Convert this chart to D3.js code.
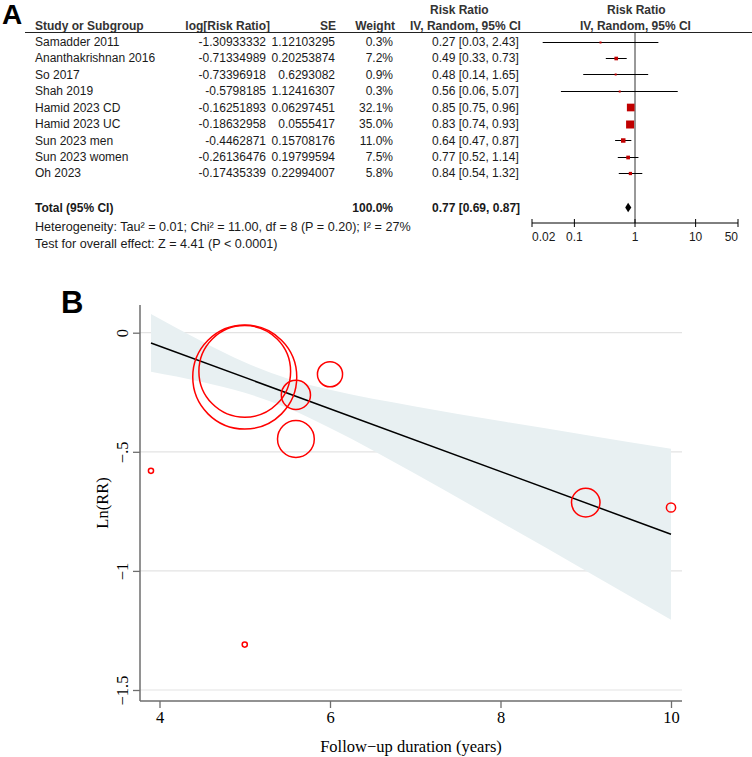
<!DOCTYPE html>
<html>
<head>
<meta charset="utf-8">
<script src="https://cdn.jsdelivr.net/npm/d3@7"></script>
<style>
  body { margin: 0; background: #fff; }
  svg { display: block; }
  .sans { font-family: "Liberation Sans", Arial, sans-serif; }
  .serif { font-family: "Liberation Serif", "Times New Roman", serif; }
</style>
</head>
<body>
<script>
// panel A: forest plot table
const studies = ["Samadder 2011", "Ananthakrishnan 2016", "So 2017", "Shah 2019", "Hamid 2023 CD",
  "Hamid 2023 UC", "Sun 2023 men", "Sun 2023 women", "Oh 2023"];
const logRR = [-1.30933332, -0.71334989, -0.73396918, -0.5798185, -0.16251893,
  -0.18632958, -0.4462871, -0.26136476, -0.17435339];
const se = [1.12103295, 0.20253874, 0.6293082, 1.12416307, 0.06297451,
  0.0555417, 0.15708176, 0.19799594, 0.22994007];
const weight = [0.3, 7.2, 0.9, 0.3, 32.1, 35.0, 11.0, 7.5, 5.8];
const rr = [0.27, 0.49, 0.48, 0.56, 0.85, 0.83, 0.64, 0.77, 0.84];
const rrLow = [0.03, 0.33, 0.14, 0.06, 0.75, 0.74, 0.47, 0.52, 0.54];
const rrHigh = [2.43, 0.73, 1.65, 5.07, 0.96, 0.93, 0.87, 1.14, 1.32];
const totalRR = [0.77, 0.69, 0.87];
const forestTicks = [0.02, 0.1, 1, 10, 50];
const heterogeneity = "Heterogeneity: Tau\u00b2 = 0.01; Chi\u00b2 = 11.00, df = 8 (P = 0.20); I\u00b2 = 27%";
const overallTest = "Test for overall effect: Z = 4.41 (P < 0.0001)";

// panel B: meta-regression
const followUp = [5, 9, 10, 3.9, 5, 5, 5.6, 5.6, 6];
const fitYears = [3.9, 10];
const fitLnRR = [-0.043, -0.846];
const bandYears = [3.9, 4.5, 5, 5.5, 6, 7, 8, 9, 10];
const bandUpper = [0.078, -0.037, -0.124, -0.192, -0.240, -0.310, -0.371, -0.429, -0.487];
const bandLower = [-0.164, -0.207, -0.252, -0.316, -0.400, -0.592, -0.795, -0.999, -1.205];
const yTicks = [0, -0.5, -1, -1.5];
const yTickLabels = ["0", "\u2212.5", "\u22121", "\u22121.5"];
const xTicks = [4, 6, 8, 10];

const svg = d3.select('body').append('svg')
  .attr('width', 752)
  .attr('height', 757);

// ---------- A ----------
const a = svg.append('g').attr('class', 'sans');

a.append('text').attr('x', 2).attr('y', 24)
  .style('font-size', '28px').style('font-weight', 'bold').text('A');

const headerColor = '#333';
const head = a.append('g').style('font-size', '12px').style('font-weight', 'bold').attr('fill', headerColor);
head.append('text').attr('x', 35).attr('y', 29.5).text('Study or Subgroup');
head.append('text').attr('x', 270).attr('y', 29.5).attr('text-anchor', 'end').text('log[Risk Ratio]');
head.append('text').attr('x', 336).attr('y', 29.5).attr('text-anchor', 'end').text('SE');
head.append('text').attr('x', 395).attr('y', 29.5).attr('text-anchor', 'end').text('Weight');
head.append('text').attr('x', 430).attr('y', 13.5).text('Risk Ratio');
head.append('text').attr('x', 410).attr('y', 29.5).text('IV, Random, 95% CI');
head.append('text').attr('x', 607).attr('y', 13.5).text('Risk Ratio');
head.append('text').attr('x', 580).attr('y', 29.5).text('IV, Random, 95% CI');

a.append('line').attr('x1', 25).attr('x2', 752).attr('y1', 32.5).attr('y2', 32.5)
  .attr('stroke', '#222').attr('stroke-width', 1);

const rowY = d3.scaleLinear().domain([0, studies.length - 1]).range([41.5, 173.1]);
const fx = d3.scaleLog().domain([0.02, 50]).range([532, 738]);
const sq = d3.scaleSqrt().domain([0, d3.max(weight)]).range([0, 8]);

const rows = a.append('g').style('font-size', '12px').attr('fill', '#1a1a1a');
studies.forEach((s, i) => {
  const y = rowY(i) + 4.3;
  rows.append('text').attr('x', 35).attr('y', y).text(s);
  rows.append('text').attr('x', 266).attr('y', y).attr('text-anchor', 'end').text(logRR[i]);
  rows.append('text').attr('x', 335).attr('y', y).attr('text-anchor', 'end').text(se[i]);
  rows.append('text').attr('x', 393).attr('y', y).attr('text-anchor', 'end').text(weight[i].toFixed(1) + '%');
  rows.append('text').attr('x', 432).attr('y', y)
    .text(`${rr[i].toFixed(2)} [${rrLow[i].toFixed(2)}, ${rrHigh[i].toFixed(2)}]`);
});

const totY = 207.5;
const tot = a.append('g').style('font-size', '12px').attr('fill', '#1a1a1a');
tot.append('text').attr('x', 35).attr('y', totY + 4.5).style('font-weight', 'bold').text('Total (95% CI)');
tot.append('text').attr('x', 393).attr('y', totY + 4.5).attr('text-anchor', 'end').style('font-weight', 'bold').text('100.0%');
tot.append('text').attr('x', 432).attr('y', totY + 4.5).style('font-weight', 'bold')
  .text(`${totalRR[0].toFixed(2)} [${totalRR[1].toFixed(2)}, ${totalRR[2].toFixed(2)}]`);
tot.append('text').attr('x', 35).attr('y', 231).style('font-size', '12.6px').text(heterogeneity);
tot.append('text').attr('x', 35).attr('y', 247.5).style('font-size', '12.6px').text(overallTest);

// forest graphic
const axisY = 223;
const forest = a.append('g');
forest.append('line').attr('x1', fx(1)).attr('x2', fx(1)).attr('y1', 32.5).attr('y2', axisY)
  .attr('stroke', '#333').attr('stroke-width', 1);

studies.forEach((s, i) => {
  const y = Math.round(rowY(i)) + 0.5;
  forest.append('line')
    .attr('x1', fx(Math.max(rrLow[i], 0.02))).attr('x2', fx(Math.min(rrHigh[i], 50)))
    .attr('y1', y).attr('y2', y)
    .attr('stroke', '#000').attr('stroke-width', 1);
  const side = Math.max(2, sq(weight[i]));
  forest.append('rect')
    .attr('x', fx(rr[i]) - side / 2).attr('y', y - side / 2)
    .attr('width', side).attr('height', side)
    .attr('fill', '#c00000');
});

forest.append('path')
  .attr('d', `M${fx(totalRR[1])},${totY} L${fx(totalRR[0])},${totY - 4.8} L${fx(totalRR[2])},${totY} L${fx(totalRR[0])},${totY + 4.8} Z`)
  .attr('fill', '#000');

forest.append('line').attr('x1', fx(0.02)).attr('x2', fx(50)).attr('y1', axisY).attr('y2', axisY)
  .attr('stroke', '#000').attr('stroke-width', 1);
const ft = forest.append('g').style('font-size', '12px').attr('fill', '#1a1a1a');
forestTicks.forEach((t, i) => {
  forest.append('line').attr('x1', fx(t)).attr('x2', fx(t)).attr('y1', axisY - 4).attr('y2', axisY + 4)
    .attr('stroke', '#000').attr('stroke-width', 1);
  ft.append('text').attr('x', fx(t)).attr('y', 240.5)
    .attr('text-anchor', i === 0 ? 'start' : i === forestTicks.length - 1 ? 'end' : 'middle')
    .text(t);
});

// ---------- B ----------
const plotL = 140, plotR = 682, plotT = 305, plotB = 701;
const x = d3.scaleLinear().domain([4, 10]).range([159.5, 671]);
const y = d3.scaleLinear().domain([-1.5, 0]).range([690, 332.7]);
const rScale = d3.scaleSqrt().domain([0, d3.max(se, s => 1 / (s * s))]).range([0, 52]);

const b = svg.append('g');
b.append('text').attr('class', 'sans').attr('x', 61).attr('y', 313)
  .style('font-size', '31px').style('font-weight', 'bold').text('B');

b.append('g').selectAll('line').data(yTicks).join('line')
  .attr('x1', plotL).attr('x2', plotR)
  .attr('y1', d => y(d)).attr('y2', d => y(d))
  .attr('stroke', '#e3e3e3').attr('stroke-width', 1.2);

const band = bandYears.map((d, i) => ({ x: d, hi: bandUpper[i], lo: bandLower[i] }));
b.append('path').datum(band)
  .attr('fill', '#e8f0f2')
  .attr('d', d3.area().x(d => x(d.x)).y0(d => y(d.lo)).y1(d => y(d.hi)).curve(d3.curveMonotoneX));

b.append('path').datum(fitYears.map((d, i) => [d, fitLnRR[i]]))
  .attr('fill', 'none').attr('stroke', '#000').attr('stroke-width', 1.5)
  .attr('d', d3.line().x(d => x(d[0])).y(d => y(d[1])));

b.append('g').selectAll('circle').data(studies.map((s, i) => i)).join('circle')
  .attr('cx', i => x(followUp[i]))
  .attr('cy', i => y(logRR[i]))
  .attr('r', i => rScale(1 / (se[i] * se[i])))
  .attr('fill', 'none').attr('stroke', '#ff0000').attr('stroke-width', 1.5);

// axes
const axisColor = '#6e6e6e';
const yAxis = b.append('g').attr('transform', `translate(${plotL},0)`)
  .call(d3.axisLeft(y).tickValues(yTicks).tickSize(7).tickFormat((d, i) => yTickLabels[i]));
yAxis.select('.domain').remove();
yAxis.selectAll('.tick line').attr('stroke', axisColor).attr('stroke-width', 1.3);
yAxis.selectAll('.tick text')
  .attr('class', 'serif').attr('fill', '#000').style('font-size', '16.5px')
  .attr('text-anchor', 'middle').attr('x', null).attr('dy', null)
  .attr('transform', 'translate(-12,0) rotate(-90)');
b.append('line').attr('x1', plotL).attr('x2', plotL).attr('y1', plotT).attr('y2', plotB)
  .attr('stroke', axisColor).attr('stroke-width', 1.5);

const xAxis = b.append('g').attr('transform', `translate(0,${plotB})`)
  .call(d3.axisBottom(x).tickValues(xTicks).tickSize(7).tickFormat(d3.format('d')));
xAxis.select('.domain').remove();
xAxis.selectAll('.tick line').attr('stroke', axisColor).attr('stroke-width', 1.3);
xAxis.selectAll('.tick text')
  .attr('class', 'serif').attr('fill', '#000').style('font-size', '16.5px')
  .attr('y', 22).attr('dy', null);
b.append('line').attr('x1', plotL).attr('x2', plotR).attr('y1', plotB).attr('y2', plotB)
  .attr('stroke', axisColor).attr('stroke-width', 1.5);

b.append('text').attr('class', 'serif')
  .attr('x', (plotL + plotR) / 2).attr('y', 752)
  .attr('text-anchor', 'middle').style('font-size', '16.5px')
  .text('Follow\u2212up duration (years)');
b.append('text').attr('class', 'serif')
  .attr('transform', `translate(108,${(plotT + plotB) / 2}) rotate(-90)`)
  .attr('text-anchor', 'middle').style('font-size', '16.5px')
  .text('Ln(RR)');
</script>
</body>
</html>
